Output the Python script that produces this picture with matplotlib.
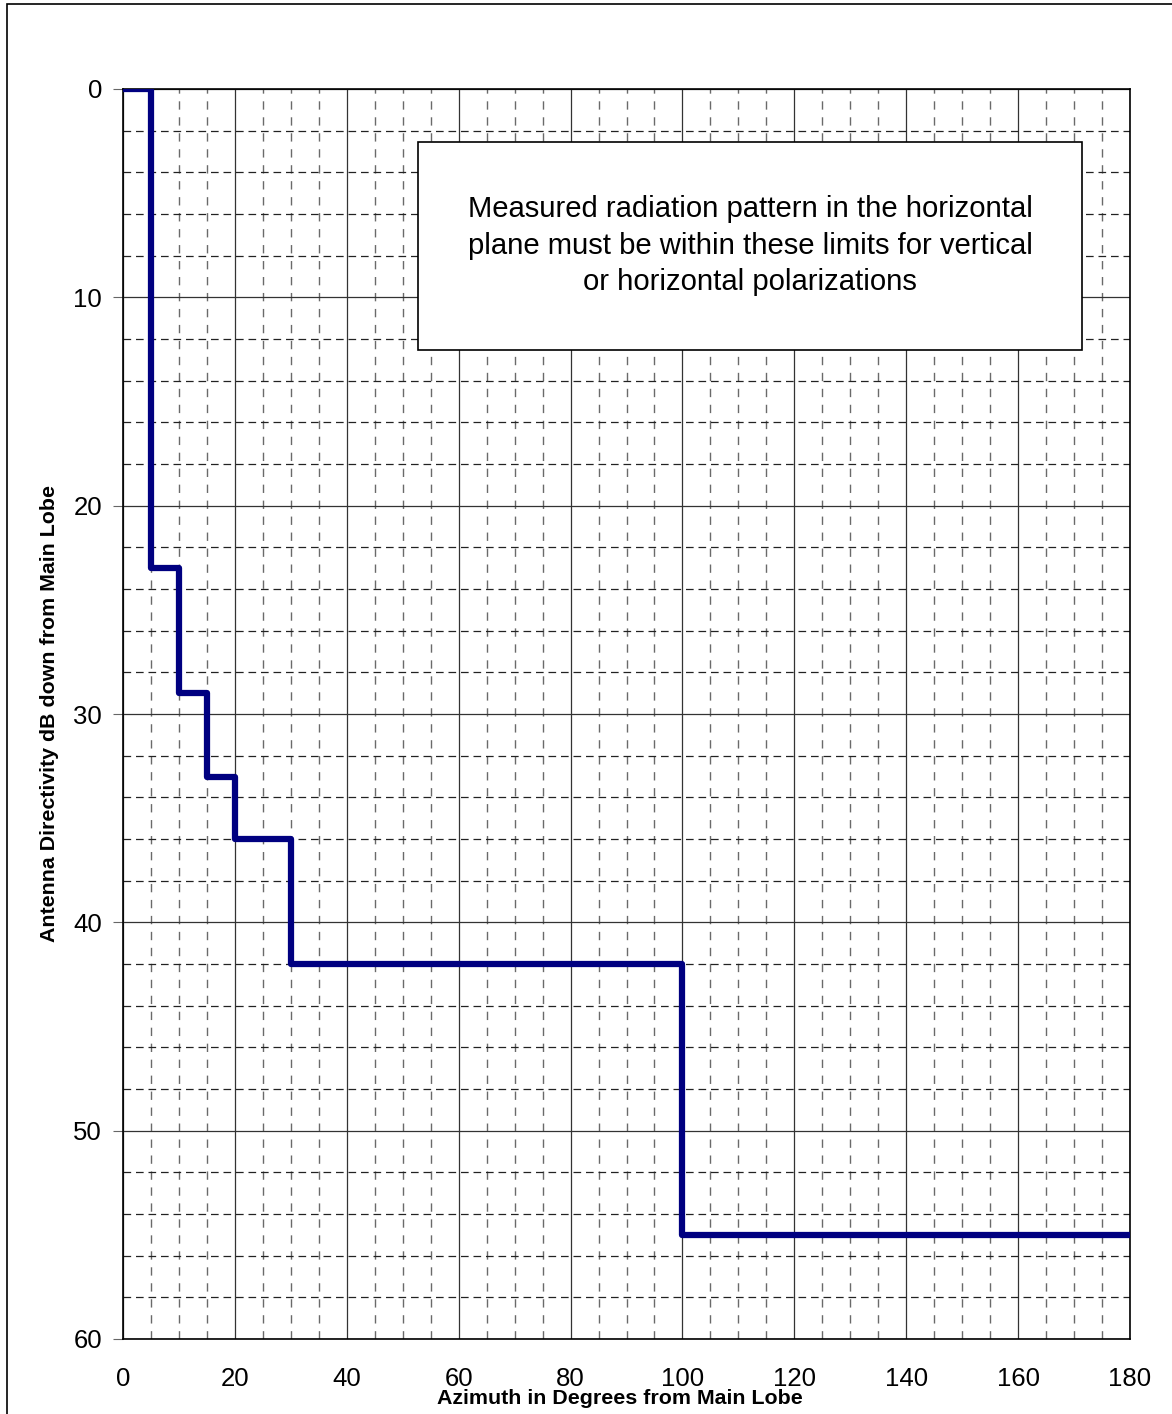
import matplotlib
matplotlib.use("Agg")
import matplotlib.pyplot as plt
from matplotlib.ticker import MultipleLocator
from matplotlib.patches import Rectangle

plt.rcParams['font.family'] = ['Liberation Sans', 'DejaVu Sans']
plt.rcParams['lines.scale_dashes'] = False

azimuth = [0, 5, 10, 15, 20, 30, 100, 180]
limit_db = [0, 23, 29, 33, 36, 42, 55, 55]
x_ticks = [0, 20, 40, 60, 80, 100, 120, 140, 160, 180]
y_ticks = [0, 10, 20, 30, 40, 50, 60]
note = ("Measured radiation pattern in the horizontal\n"
        "plane must be within these limits for vertical\n"
        "or horizontal polarizations")

W, H = 1172, 1414
L, R, T, B = 123, 1130, 89, 1339
fig = plt.figure(figsize=(W / 100, H / 100), dpi=100)
ax = fig.add_axes([L / W, 1 - B / H, (R - L) / W, (B - T) / H])

# figure frame
fig.patches.append(Rectangle((7 / W, -0.05), 1.1, 1 - 4 / H + 0.05, transform=fig.transFigure,
                             fill=False, edgecolor='black', linewidth=1.2, zorder=0))

ax.set_xlim(0, 180)
ax.set_ylim(60, 0)
ax.set_xticks(x_ticks)
ax.set_yticks(y_ticks)
ax.xaxis.set_minor_locator(MultipleLocator(5))
ax.yaxis.set_minor_locator(MultipleLocator(2))
ax.grid(which='major', color='#333333', linewidth=0.9, linestyle='-')
ax.xaxis.grid(which='minor', color='#6a6a6a', linewidth=1.0, linestyle=(0, (6.0, 5.5)))
ax.yaxis.grid(which='minor', color='#222222', linewidth=0.9, linestyle=(0, (5.5, 3.5)))
ax.set_axisbelow(True)
ax.tick_params(axis='x', which='both', length=0, labelsize=18.5, pad=20)
ax.tick_params(axis='y', which='major', length=7, color='#666666', labelsize=18.5, pad=8)
ax.tick_params(axis='y', which='minor', length=0)
for s in ax.spines.values():
    s.set_color('black')
    s.set_linewidth(1.2)

ax.step(azimuth, limit_db, where='post', color='#000080', linewidth=4.5, zorder=3,
        solid_joinstyle='round')

# annotation box
box = Rectangle(((418 - L) / (R - L), (B - 350) / (B - T)),
                (1082 - 418) / (R - L), (350 - 142) / (B - T),
                transform=ax.transAxes, facecolor='white', edgecolor='black',
                linewidth=1.2, zorder=4)
ax.add_patch(box)
ax.text((750 - L) / (R - L), (B - 245.5) / (B - T), note, transform=ax.transAxes,
        ha='center', va='center', fontsize=21.1, linespacing=1.37, zorder=5)

fig.text(620 / W, 1 - 1398 / H, 'Azimuth in Degrees from Main Lobe', ha='center', va='center',
         fontsize=15.4, fontweight='bold')
fig.text(50 / W, 1 - 714 / H, 'Antenna Directivity dB down from Main Lobe', ha='center', va='center',
         rotation=90, fontsize=15.4, fontweight='bold')

fig.savefig('out.png', dpi=100)
